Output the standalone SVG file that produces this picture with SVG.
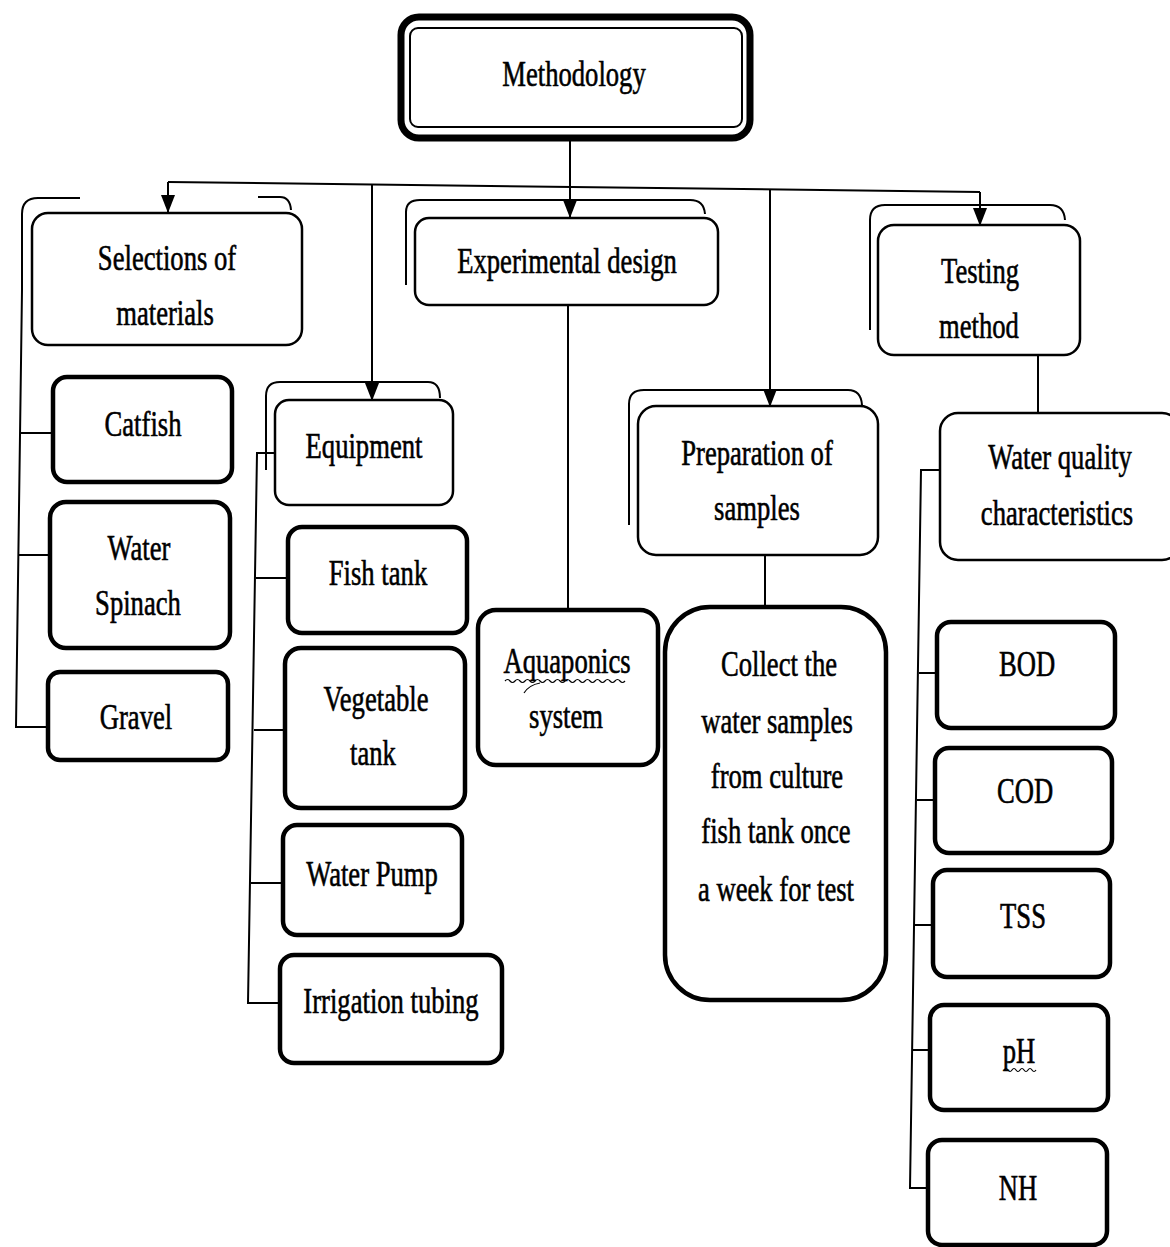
<svg xmlns="http://www.w3.org/2000/svg" width="1170" height="1247" viewBox="0 0 1170 1247">
<defs>
<marker id="ad" markerUnits="userSpaceOnUse" markerWidth="14" markerHeight="18" refX="7" refY="17" orient="0" viewBox="0 0 14 18">
<path d="M0,0 L14,0 L7,18 Z" fill="#000"/>
</marker>
</defs>
<style>
text{font-family:"Liberation Serif",serif;font-size:36px;fill:#000;stroke:#000;stroke-width:0.6;text-anchor:middle}
.thick{fill:#fff;stroke:#000;stroke-width:4.5}
.mid{fill:#fff;stroke:#000;stroke-width:2.5}
.back{fill:none;stroke:#000;stroke-width:2}
.ln{fill:none;stroke:#000;stroke-width:2}
.sq{fill:none;stroke:#000;stroke-width:1.2}
</style>
<rect width="1170" height="1247" fill="#fff"/>

<g id="connectors">
<path class="ln" d="M570,128 V217" marker-end="url(#ad)"/>
<path class="ln" d="M168,182 L980,192"/>
<path class="ln" d="M168,182 V212" marker-end="url(#ad)"/>
<path class="ln" d="M372,184 V400" marker-end="url(#ad)"/>
<path class="ln" d="M770,189 V406" marker-end="url(#ad)"/>
<path class="ln" d="M980,192 V225" marker-end="url(#ad)"/>
<path class="ln" d="M22,290 L16,727 H48"/>
<path class="ln" d="M20,433 H53"/>
<path class="ln" d="M18,555 H50"/>
<path class="ln" d="M275,453 H257 L248,1003 H280"/>
<path class="ln" d="M256,578 H288"/>
<path class="ln" d="M254,730 H285"/>
<path class="ln" d="M251,883 H283"/>
<path class="ln" d="M568,305 V610"/>
<path class="ln" d="M765,555 V607"/>
<path class="ln" d="M1038,355 V412"/>
<path class="ln" d="M940,470 H921 L910,1188 H928"/>
<path class="ln" d="M919,673 H937"/>
<path class="ln" d="M917,800 H935"/>
<path class="ln" d="M915,925 H933"/>
<path class="ln" d="M913,1050 H930"/>
</g>

<g id="methodology">
<rect x="401" y="17" width="349" height="121" rx="18" fill="#fff" stroke="#000" stroke-width="7"/>
<rect x="410" y="28" width="332" height="99" rx="8" fill="none" stroke="#000" stroke-width="2"/>
<text transform="translate(574,86) scale(0.74,1)">Methodology</text>
</g>

<g id="selections">
<path class="back" d="M22,290 V214 Q22,198 38,198 H80" stroke-width="5"/>
<path class="back" d="M258,197 H280 Q290,197 291,210"/>
<rect class="mid" x="32" y="213" width="270" height="132" rx="16"/>
<text transform="translate(167,270) scale(0.74,1)">Selections of</text>
<text transform="translate(165,325) scale(0.74,1)">materials</text>
</g>

<g id="catfish">
<rect class="thick" x="53" y="377" width="179" height="105" rx="14"/>
<text transform="translate(143,436) scale(0.74,1)">Catfish</text>
</g>
<g id="water-spinach">
<rect class="thick" x="50" y="502" width="180" height="146" rx="16"/>
<text transform="translate(139,560) scale(0.74,1)">Water</text>
<text transform="translate(138,615) scale(0.74,1)">Spinach</text>
</g>
<g id="gravel">
<rect class="thick" x="48" y="672" width="180" height="88" rx="12"/>
<text transform="translate(136,729) scale(0.74,1)">Gravel</text>
</g>

<g id="equipment">
<path class="back" d="M266,470 V396 Q266,382 280,382 H428 Q440,382 440,398"/>
<rect class="mid" x="275" y="400" width="178" height="105" rx="14"/>
<text transform="translate(364,458) scale(0.74,1)">Equipment</text>
</g>
<g id="fish-tank">
<rect class="thick" x="288" y="527" width="179" height="106" rx="14"/>
<text transform="translate(378,585) scale(0.74,1)">Fish tank</text>
</g>
<g id="vegetable-tank">
<rect class="thick" x="285" y="648" width="180" height="160" rx="16"/>
<text transform="translate(376,711) scale(0.74,1)">Vegetable</text>
<text transform="translate(373,765) scale(0.74,1)">tank</text>
</g>
<g id="water-pump">
<rect class="thick" x="283" y="825" width="179" height="110" rx="14"/>
<text transform="translate(372,886) scale(0.74,1)">Water Pump</text>
</g>
<g id="irrigation-tubing">
<rect class="thick" x="280" y="955" width="222" height="108" rx="14"/>
<text transform="translate(391,1013) scale(0.74,1)">Irrigation tubing</text>
</g>

<g id="experimental-design">
<path class="back" d="M406,285 V212 Q406,200 420,200 H690 Q704,200 705,214"/>
<rect class="mid" x="415" y="218" width="303" height="87" rx="14"/>
<text transform="translate(567,273) scale(0.74,1)">Experimental design</text>
</g>
<g id="aquaponics-system">
<rect class="thick" x="478" y="610" width="180" height="155" rx="18"/>
<text transform="translate(567,673) scale(0.74,1)">Aquaponics</text>
<path class="sq" d="M505,681 q2.5,-3 5,0 t5,0 t5,0 t5,0 t5,0 t5,0 t5,0 t5,0 t5,0 t5,0 t5,0 t5,0 t5,0 t5,0 t5,0 t5,0 t5,0 t5,0 t5,0 t5,0 t5,0 t5,0 t5,0 t5,0"/>
<path class="sq" d="M524,693 q5,-8 16,-10"/>
<text transform="translate(566,728) scale(0.74,1)">system</text>
</g>

<g id="preparation-of-samples">
<path class="back" d="M629,525 V404 Q629,390 644,390 H848 Q861,390 862,405"/>
<rect class="mid" x="638" y="406" width="240" height="149" rx="18" stroke-width="3"/>
<text transform="translate(757,465) scale(0.74,1)">Preparation of</text>
<text transform="translate(757,520) scale(0.74,1)">samples</text>
</g>
<g id="collect">
<rect class="thick" x="665" y="607" width="221" height="393" rx="45"/>
<text transform="translate(779,676) scale(0.74,1)">Collect the</text>
<text transform="translate(777,733) scale(0.74,1)">water samples</text>
<text transform="translate(777,788) scale(0.74,1)">from culture</text>
<text transform="translate(776,843) scale(0.74,1)">fish tank once</text>
<text transform="translate(776,901) scale(0.74,1)">a week for test</text>
</g>

<g id="testing-method">
<path class="back" d="M870,330 V220 Q870,205 885,205 H1050 Q1064,205 1065,220"/>
<rect class="mid" x="878" y="225" width="202" height="130" rx="16"/>
<text transform="translate(980,283) scale(0.74,1)">Testing</text>
<text transform="translate(979,338) scale(0.74,1)">method</text>
</g>
<g id="water-quality-characteristics">
<rect class="mid" x="940" y="413" width="240" height="147" rx="18"/>
<text transform="translate(1060,469) scale(0.74,1)">Water quality</text>
<text transform="translate(1057,525) scale(0.74,1)">characteristics</text>
</g>
<g id="bod">
<rect class="thick" x="937" y="622" width="178" height="106" rx="14"/>
<text transform="translate(1027,676) scale(0.74,1)">BOD</text>
</g>
<g id="cod">
<rect class="thick" x="935" y="748" width="177" height="105" rx="14"/>
<text transform="translate(1025,803) scale(0.74,1)">COD</text>
</g>
<g id="tss">
<rect class="thick" x="933" y="870" width="177" height="107" rx="14"/>
<text transform="translate(1023,928) scale(0.74,1)">TSS</text>
</g>
<g id="ph">
<rect class="thick" x="930" y="1005" width="178" height="105" rx="14"/>
<text transform="translate(1019,1063) scale(0.74,1)">pH</text>
<path class="sq" d="M1004,1070 q2,-3 4,0 t4,0 t4,0 t4,0 t4,0 t4,0 t4,0 t4,0"/>
</g>
<g id="nh">
<rect class="thick" x="928" y="1140" width="179" height="105" rx="14"/>
<text transform="translate(1018,1200) scale(0.74,1)">NH</text>
</g>
</svg>
